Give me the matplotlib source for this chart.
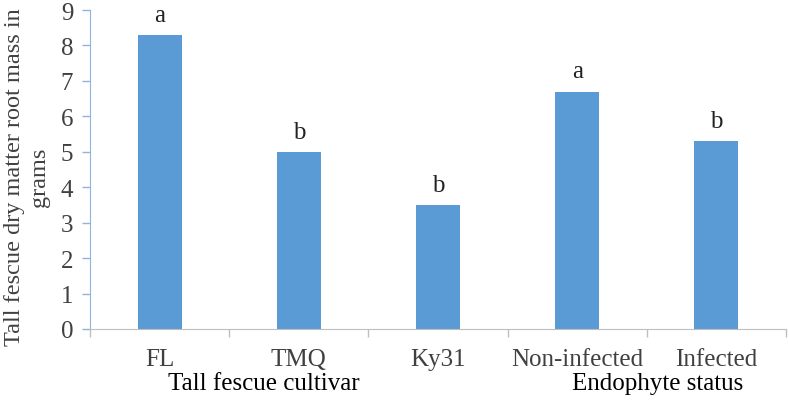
import matplotlib
matplotlib.use("Agg")
import matplotlib.pyplot as plt
import matplotlib.transforms as mtransforms
import numpy as np

categories = ["FL", "TMQ", "Ky31", "Non-infected", "Infected"]
root_mass = [8.3, 5.0, 3.5, 6.7, 5.3]
letters = ["a", "b", "b", "a", "b"]
groups = ["Tall fescue cultivar", "Endophyte status"]
group_x = [0.75, 3.58]

plt.rcParams["font.family"] = ["Liberation Serif", "DejaVu Serif"]
FS = 18

fig = plt.figure(figsize=(7.89, 4.02), dpi=100)
ax = fig.add_axes([90 / 789, 72 / 402, 696 / 789, 319 / 402])

x = np.arange(len(categories))
ax.bar(x, root_mass, width=0.315, color="#5B9BD5")
for xi, v, lab in zip(x, root_mass, letters):
    ax.text(xi, v + 0.4, lab, ha="center", va="baseline", fontsize=FS, color="#222222")

ax.set_xlim(-0.5, len(categories) - 0.5)
ax.set_ylim(0, 9)
ax.set_yticks(range(10))
ax.set_xticks(x)
ax.set_xticklabels(categories)
ax.set_xticks(np.arange(-0.5, len(categories)), minor=True)

ax.tick_params(axis="x", which="major", length=0, pad=14, labelsize=FS, labelcolor="#404040")
ax.tick_params(axis="x", which="minor", length=6, color="#BFBFBF", width=1)
ax.tick_params(axis="y", length=6, color="#8FB4DE", width=1, labelsize=FS, labelcolor="#404040", pad=6)

for s in ["top", "right"]:
    ax.spines[s].set_visible(False)
ax.spines["left"].set_color("#8FB4DE")
ax.spines["bottom"].set_color("#BFBFBF")

# y-axis title sits a bit lower than the axes centre, as in the original
fig.text(27 / 789, 1 - 177 / 402, "Tall fescue dry matter root mass in\ngrams",
         rotation=90, ha="center", va="center", multialignment="center",
         fontsize=17.5, color="#404040", linespacing=1.2)

trans = mtransforms.blended_transform_factory(ax.transData, ax.transAxes)
for gx, g in zip(group_x, groups):
    ax.text(gx, -0.17, g, transform=trans, ha="center", va="center", fontsize=FS, color="black")

fig.savefig("out.png", dpi=100)
